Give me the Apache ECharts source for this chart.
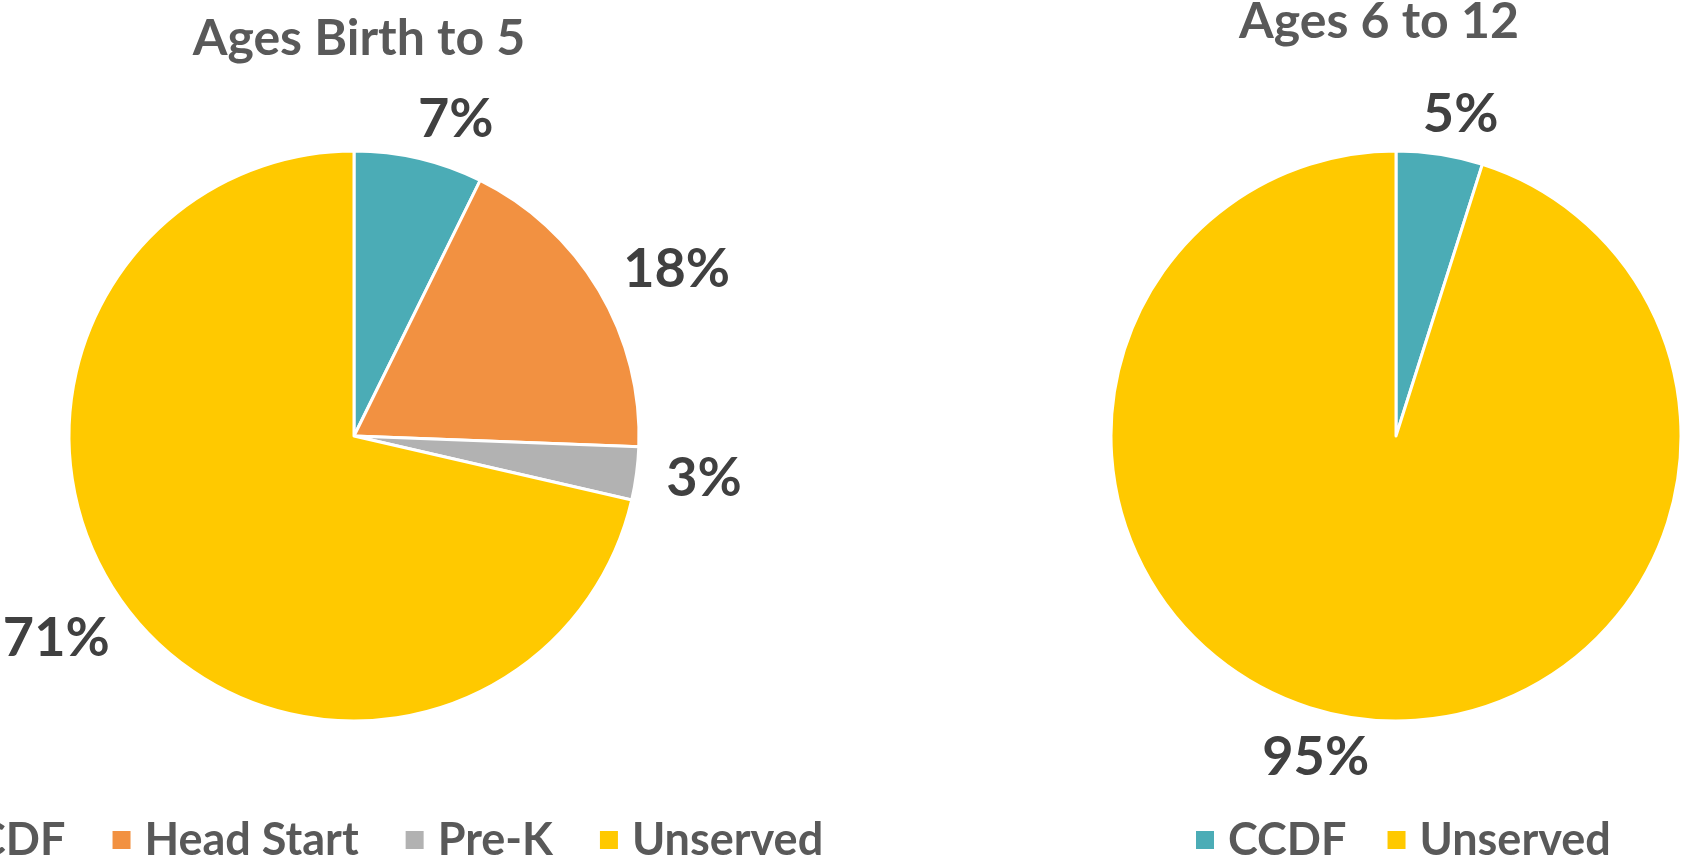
<!DOCTYPE html>
<html>
<head>
<meta charset="utf-8">
<style>
  html, body { margin: 0; padding: 0; background: #fff; }
  #main { width: 1681px; height: 860px; }
</style>
<script src="https://cdn.jsdelivr.net/npm/echarts@6/dist/echarts.min.js"></script>
</head>
<body>
<div id="main"></div>
<script>
// 0-5 岁
var youngNames = ['CCDF', 'Head Start', 'Pre-K', 'Unserved'];
var youngValues = [7.3, 18.3, 3.0, 71.4];

// 6-12 岁
var schoolNames = ['CCDF', 'Unserved'];
var schoolValues = [4.9, 95.1];

var colorMap = {
    'CCDF': '#4BACB6',
    'Head Start': '#F29141',
    'Pre-K': '#B2B2B2',
    'Unserved': '#FFC900'
};

var fontName = 'Lato, "Noto Sans", sans-serif';

function buildData(names, values) {
    return names.map(function (n, i) {
        return { name: n, value: values[i], itemStyle: { color: colorMap[n] } };
    });
}

function pieSeries(names, values, center, shift) {
    return {
        type: 'pie',
        center: center,
        radius: 285,
        startAngle: 90,
        clockwise: true,
        avoidLabelOverlap: false,
        data: buildData(names, values),
        itemStyle: { borderColor: '#fff', borderWidth: 3 },
        label: {
            show: true,
            position: 'outside',
            formatter: function (p) { return Math.round(p.percent) + '%'; },
            color: '#404040',
            fontFamily: fontName,
            fontWeight: 'bold',
            fontSize: 54
        },
        labelLine: { show: false, length: 40, length2: shift },
        emphasis: { scale: false }
    };
}

var legendText = {
    color: '#595959',
    fontFamily: fontName,
    fontWeight: 'bold',
    fontSize: 45,
    lineHeight: 46,
    padding: [0, 0, 0, 8]
};

var myChart = echarts.init(document.getElementById('main'));
var option = {
    animation: false,
    backgroundColor: '#fff',
    title: [
        {
            text: 'Ages Birth to 5',
            left: 354, top: 9, textAlign: 'center',
            textStyle: { color: '#595959', fontFamily: fontName, fontWeight: 'bold', fontSize: 50 }
        },
        {
            text: 'Ages 6 to 12',
            left: 1374, top: -8, textAlign: 'center',
            textStyle: { color: '#595959', fontFamily: fontName, fontWeight: 'bold', fontSize: 50 }
        }
    ],
    legend: [
        {
            data: youngNames,
            left: -92, top: 812,
            icon: 'rect', itemWidth: 20, itemHeight: 20, itemGap: 45,
            textStyle: legendText,
            selectedMode: false
        },
        {
            data: schoolNames,
            left: 1189, top: 812,
            icon: 'rect', itemWidth: 20, itemHeight: 20, itemGap: 39,
            textStyle: legendText,
            selectedMode: false
        }
    ],
    series: [
        pieSeries(youngNames, youngValues, [354, 436], -15),
        pieSeries(schoolNames, schoolValues, [1396, 436], -28)
    ]
};
myChart.setOption(option);
</script>
</body>
</html>
